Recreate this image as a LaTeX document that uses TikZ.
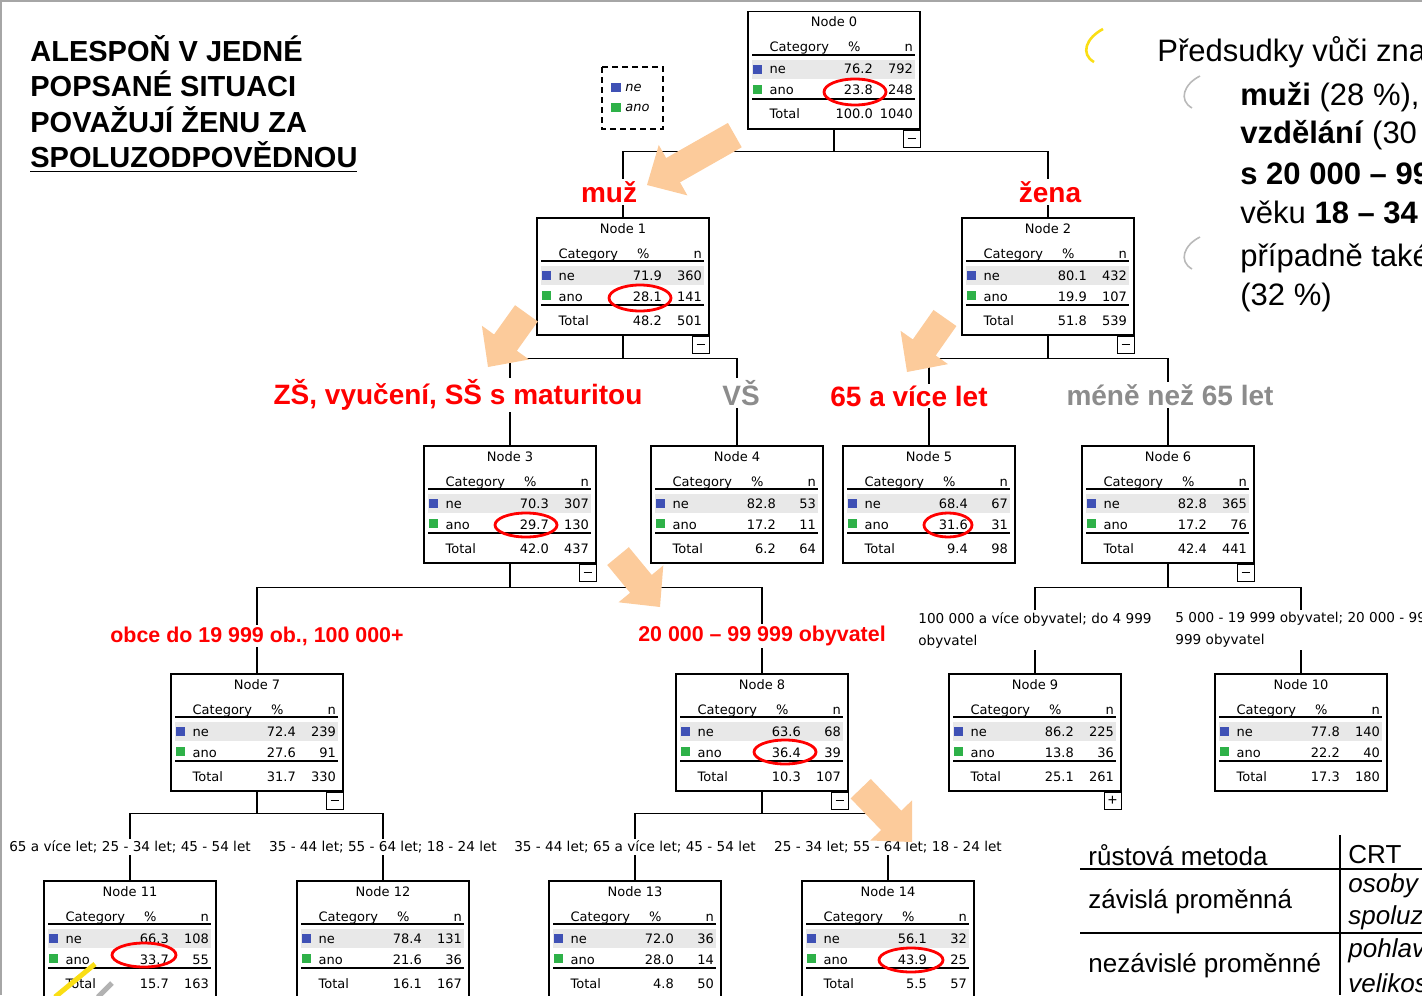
\documentclass[tikz,border=0pt]{standalone}
\usepackage{fontspec}
\setmainfont{Liberation Sans}
\newfontfamily\spssfont{DejaVu Sans}
\usetikzlibrary{calc}
\definecolor{spssblue}{RGB}{63,81,181}
\definecolor{spssgreen}{RGB}{46,177,72}
\definecolor{rowgray}{RGB}{232,232,232}
\definecolor{peach}{RGB}{252,203,155}
\definecolor{labelgray}{RGB}{140,140,140}
\definecolor{markyellow}{RGB}{250,222,20}

% rows of one tree node: name, title, ne %, ne n, ano %, ano n, total %, total n
\newcommand{\boxrows}[8]{%
  \fill[rowgray] ($(#1.north west)+(5,49)$) rectangle ($(#1.north west)+(168,68)$);
  \draw[rule] ($(#1.north west)+(5,44)$) -- ($(#1.north west)+(168,44)$);
  \draw[rule] ($(#1.north west)+(5,88)$) -- ($(#1.north west)+(168,88)$);
  \fill[spssblue] ($(#1.north west)+(6,54)$) rectangle ($(#1.north west)+(15,63)$);
  \fill[spssgreen] ($(#1.north west)+(6,74)$) rectangle ($(#1.north west)+(15,83)$);
  \node[cell] at ($(#1.north)+(0,16)$) {#2};
  \node[cell,anchor=base west] at ($(#1.north west)+(22,41)$) {Category};
  \node[cell] at ($(#1.north west)+(107,41)$) {\%};
  \node[cell,anchor=base east] at ($(#1.north west)+(166,41)$) {n};
  \node[cell,anchor=base west] at ($(#1.north west)+(22,63)$) {ne};
  \node[cell,anchor=base east] at ($(#1.north west)+(126,63)$) {#3};
  \node[cell,anchor=base east] at ($(#1.north west)+(166,63)$) {#4};
  \node[cell,anchor=base west] at ($(#1.north west)+(22,84)$) {ano};
  \node[cell,anchor=base east] at ($(#1.north west)+(126,84)$) {#5};
  \node[cell,anchor=base east] at ($(#1.north west)+(166,84)$) {#6};
  \node[cell,anchor=base west] at ($(#1.north west)+(22,108)$) {Total};
  \node[cell,anchor=base east] at ($(#1.north west)+(126,108)$) {#7};
  \node[cell,anchor=base east] at ($(#1.north west)+(166,108)$) {#8};
}
% big arrow: tip, angle, length
\newcommand{\fatarrow}[3]{%
  \fill[peach, shift={#1}, rotate=#2] (0,0) -- (-30,29) -- (-30,14) -- (-#3,14) -- (-#3,-14) -- (-30,-14) -- (-30,-29) -- cycle;}

\begin{document}
\begin{tikzpicture}[x=0.5pt,y=-0.5pt]

	 \tikzstyle{treebox}=[draw,line width=0.75pt,fill=white,minimum width=86pt,minimum height=58.5pt,inner sep=0pt,anchor=north]
	 \tikzstyle{cell}=[font=\spssfont\fontsize{6.5}{7}\selectfont,inner sep=0pt,anchor=base]
	 \tikzstyle{rule}=[draw,line width=0.6pt]
	 \tikzstyle{edge}=[draw,line width=0.75pt]
	 \tikzstyle{toggle}=[draw,line width=0.6pt,fill=white,minimum size=8.5pt,inner sep=0pt,anchor=north east,font=\fontsize{8}{8}\selectfont]
	 \tikzstyle{redlabel}=[text=red,fill=white,inner sep=1pt,font=\bfseries\fontsize{14}{16}\selectfont]
	 \tikzstyle{graylabel}=[redlabel,text=labelgray]
	 \tikzstyle{redsmall}=[redlabel,font=\bfseries\fontsize{10.7}{12}\selectfont]
	 \tikzstyle{branch}=[fill=white,inner sep=1pt,font=\spssfont\fontsize{6.8}{11}\selectfont]
	 \tikzstyle{hilite}=[draw=red,line width=1.4pt]
	 \tikzstyle{bigtext}=[anchor=west,inner sep=0pt,font=\fontsize{15.5}{18}\selectfont]
	 \tikzstyle{tabtext}=[anchor=west,inner sep=0pt,font=\fontsize{13}{15}\selectfont]

	 \useasboundingbox (0,0) rectangle (1422,995);
	 \clip (0,0) rectangle (1422,995);
	 \draw[gray!70,line width=1pt] (1,995) -- (1,1) -- (1422,1);

	 \node[treebox] (n0) at (834,11) {};
	 \node[treebox] (n1) at (623,217) {};
	 \node[treebox] (n2) at (1048,217) {};
	 \node[treebox] (n3) at (510,445) {};
	 \node[treebox] (n4) at (737,445) {};
	 \node[treebox] (n5) at (929,445) {};
	 \node[treebox] (n6) at (1168,445) {};
	 \node[treebox] (n7) at (257,673) {};
	 \node[treebox] (n8) at (762,673) {};
	 \node[treebox] (n9) at (1035,673) {};
	 \node[treebox] (n10) at (1301,673) {};
	 \node[treebox] (n11) at (130,880) {};
	 \node[treebox] (n12) at (383,880) {};
	 \node[treebox] (n13) at (635,880) {};
	 \node[treebox] (n14) at (888,880) {};

	 % tree edges
	 \draw[edge] (n0.south) -- ++(0,22) coordinate (s0);
	 \draw[edge] (s0) -| (n1.north);
	 \draw[edge] (s0) -| (n2.north);
	 \draw[edge] (n1.south) -- ++(0,23) coordinate (s1);
	 \draw[edge] (s1) -| (n3.north);
	 \draw[edge] (s1) -| (n4.north);
	 \draw[edge] (n2.south) -- ++(0,23) coordinate (s2);
	 \draw[edge] (s2) -| (n5.north);
	 \draw[edge] (s2) -| (n6.north);
	 \draw[edge] (n3.south) -- ++(0,24) coordinate (s3);
	 \draw[edge] (s3) -| (n7.north);
	 \draw[edge] (s3) -| (n8.north);
	 \draw[edge] (n6.south) -- ++(0,24) coordinate (s6);
	 \draw[edge] (s6) -| (n9.north);
	 \draw[edge] (s6) -| (n10.north);
	 \draw[edge] (n7.south) -- ++(0,22) coordinate (s7);
	 \draw[edge] (s7) -| (n11.north);
	 \draw[edge] (s7) -| (n12.north);
	 \draw[edge] (n8.south) -- ++(0,22) coordinate (s8);
	 \draw[edge] (s8) -| (n13.north);
	 \draw[edge] (s8) -| (n14.north);

	 % branch labels
	 \node[redlabel] (l1) at (609,192) {muž};
	 \node[redlabel] (l2) at (1050,192) {žena};
	 \node[redlabel] (l3) at (458,395) {ZŠ, vyučení, SŠ s maturitou};
	 \node[graylabel] (l4) at (741,393) {VŠ};
	 \node[redlabel] (l5) at (909,396) {65 a více let};
	 \node[graylabel] (l6) at (1170,395) {méně než 65 let};
	 \node[redsmall] (l7) at (257,636) {obce do 19 999 ob., 100 000+};
	 \node[redsmall] (l8) at (762,636) {20 000 – 99 999 obyvatel};
	 \node[branch,anchor=west,align=left] (l9) at (916,630) {100 000 a více obyvatel; do 4 999\\obyvatel};
	 \node[branch,anchor=west,align=left] (l10) at (1173,630) {5 000 - 19 999 obyvatel; 20 000 - 99\\999 obyvatel};
	 \node[branch] (l11) at (130,847) {65 a více let; 25 - 34 let; 45 - 54 let};
	 \node[branch] (l12) at (383,847) {35 - 44 let; 55 - 64 let; 18 - 24 let};
	 \node[branch] (l13) at (635,847) {35 - 44 let; 65 a více let; 45 - 54 let};
	 \node[branch] (l14) at (888,847) {25 - 34 let; 55 - 64 let; 18 - 24 let};

	 \fatarrow{(647,185)}{209.6}{101}
	 \fatarrow{(488,367)}{234.4}{66}
	 \fatarrow{(907,372)}{234.9}{66}
	 \fatarrow{(660,607)}{-50.5}{66}
	 \fatarrow{(912,842)}{-46.1}{74}

	 \boxrows{n0}{Node 0}{76.2}{792}{23.8}{248}{100.0}{1040}
	 \boxrows{n1}{Node 1}{71.9}{360}{28.1}{141}{48.2}{501}
	 \boxrows{n2}{Node 2}{80.1}{432}{19.9}{107}{51.8}{539}
	 \boxrows{n3}{Node 3}{70.3}{307}{29.7}{130}{42.0}{437}
	 \boxrows{n4}{Node 4}{82.8}{53}{17.2}{11}{6.2}{64}
	 \boxrows{n5}{Node 5}{68.4}{67}{31.6}{31}{9.4}{98}
	 \boxrows{n6}{Node 6}{82.8}{365}{17.2}{76}{42.4}{441}
	 \boxrows{n7}{Node 7}{72.4}{239}{27.6}{91}{31.7}{330}
	 \boxrows{n8}{Node 8}{63.6}{68}{36.4}{39}{10.3}{107}
	 \boxrows{n9}{Node 9}{86.2}{225}{13.8}{36}{25.1}{261}
	 \boxrows{n10}{Node 10}{77.8}{140}{22.2}{40}{17.3}{180}
	 \boxrows{n11}{Node 11}{66.3}{108}{33.7}{55}{15.7}{163}
	 \boxrows{n12}{Node 12}{78.4}{131}{21.6}{36}{16.1}{167}
	 \boxrows{n13}{Node 13}{72.0}{36}{28.0}{14}{4.8}{50}
	 \boxrows{n14}{Node 14}{56.1}{32}{43.9}{25}{5.5}{57}

	 \node[toggle] (t0) at (n0.south east) {\rule{4pt}{0.6pt}};
	 \node[toggle] (t1) at (n1.south east) {\rule{4pt}{0.6pt}};
	 \node[toggle] (t2) at (n2.south east) {\rule{4pt}{0.6pt}};
	 \node[toggle] (t3) at (n3.south east) {\rule{4pt}{0.6pt}};
	 \node[toggle] (t6) at (n6.south east) {\rule{4pt}{0.6pt}};
	 \node[toggle] (t7) at (n7.south east) {\rule{4pt}{0.6pt}};
	 \node[toggle] (t8) at (n8.south east) {\rule{4pt}{0.6pt}};
	 \node[toggle] (t9) at (n9.south east) {+};

	 % highlighted shares
	 \draw[hilite] (855,92) ellipse [x radius=15.5pt, y radius=6.5pt];
	 \draw[hilite] (640,298) ellipse [x radius=15.5pt, y radius=6.5pt];
	 \draw[hilite] (526,525) ellipse [x radius=15.5pt, y radius=6pt];
	 \draw[hilite] (948,525) ellipse [x radius=12pt, y radius=6pt];
	 \draw[hilite] (785,752) ellipse [x radius=15.5pt, y radius=6pt];
	 \draw[hilite] (144,955) ellipse [x radius=16pt, y radius=6pt];
	 \draw[hilite] (911,960) ellipse [x radius=16pt, y radius=6pt];

	 % legend
	 \draw[line width=0.75pt,dash pattern=on 3pt off 2pt] (602,67) rectangle (663,129);
	 \fill[spssblue] (611,83) rectangle (621,92);
	 \fill[spssgreen] (611,103) rectangle (621,112);
	 \node[cell,anchor=west,font=\spssfont\itshape\fontsize{6.5}{7}\selectfont] (kne) at (625,88) {ne};
	 \node[cell,anchor=west,font=\spssfont\itshape\fontsize{6.5}{7}\selectfont] (kano) at (625,108) {ano};

	 % title
	 \node[anchor=north west,inner sep=0pt,align=left,font=\bfseries\fontsize{14.5}{17.75}\selectfont] (title) at (30,35)
	   {ALESPOŇ V JEDNÉ\\POPSANÉ SITUACI\\POVAŽUJÍ ŽENU ZA\\\underline{SPOLUZODPOVĚDNOU}};

	 % notes on the right
	 \draw[markyellow,line width=1.3pt] (1103,29) .. controls (1086,38) and (1080,54) .. (1094,62);
	 \draw[gray!55,line width=0.8pt] (1200,76) .. controls (1184,84) and (1178,100) .. (1192,108);
	 \draw[gray!55,line width=0.8pt] (1200,237) .. controls (1184,245) and (1178,261) .. (1192,269);
	 \node[bigtext] (p0) at (1157,52) {Předsudky vůči zna};
	 \node[bigtext] (p1) at (1240,97) {\textbf{muži} (28 \%),};
	 \node[bigtext] (p2) at (1240,135) {\textbf{vzdělání} (30};
	 \node[bigtext] (p3) at (1240,174) {\textbf{s 20 000 – 99}};
	 \node[bigtext] (p4) at (1240,212) {věku \textbf{18 – 34}};
	 \node[bigtext] (p5) at (1240,258) {případně také};
	 \node[bigtext] (p6) at (1240,297) {(32 \%)};

	 % method table
	 \draw[line width=1pt] (1340,835) -- (1340,995);
	 \draw[line width=1pt] (1080,869) -- (1422,869);
	 \draw[line width=1pt] (1080,933) -- (1422,933);
	 \node[tabtext] (m1) at (1088,855) {růstová metoda};
	 \node[tabtext] (m2) at (1348,855) {CRT};
	 \node[tabtext] (m3) at (1088,902) {závislá proměnná};
	 \node[tabtext] (m4) at (1348,886) {\itshape osoby};
	 \node[tabtext] (m5) at (1348,918) {\itshape spoluz};
	 \node[tabtext] (m6) at (1088,966) {nezávislé proměnné};
	 \node[tabtext] (m7) at (1348,951) {\itshape pohlav};
	 \node[tabtext] (m8) at (1348,983) {\itshape velikos};

	 % pen marks
	 \draw[markyellow,line width=2.5pt] (55,997) -- (95,964);
	 \draw[gray!60,line width=2.5pt] (98,997) -- (112,983);

\end{tikzpicture}
\end{document}
